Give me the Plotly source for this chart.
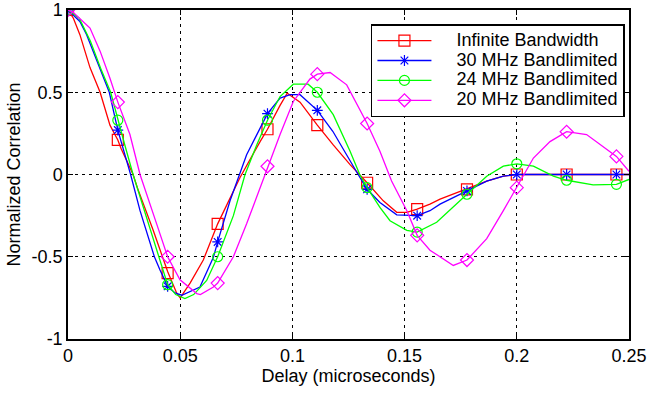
import plotly.graph_objects as go

# ---------------- data ----------------
series_names = ["Infinite Bandwidth", "30 MHz Bandlimited",
                "24 MHz Bandlimited", "20 MHz Bandlimited"]
series_colors = ["#FF0000", "#0000FF", "#00FF00", "#FF00FF"]
series_symbols = ["square-open", "asterisk-open", "circle-open", "diamond-open"]

# marker sample delays (microseconds)
marker_x = [0.0, 0.0222, 0.0444, 0.0667, 0.0889, 0.1111,
            0.1333, 0.1556, 0.1778, 0.2, 0.2222, 0.2444]

red_mk = [1.0, 0.21, -0.60, -0.30, 0.275, 0.30, -0.05, -0.21, -0.09, 0.0, 0.0, 0.0]
blue_mk = [1.0, 0.27, -0.68, -0.41, 0.37, 0.39, -0.09, -0.25, -0.10, 0.0, 0.0, 0.0]
green_mk = [1.0, 0.33, -0.67, -0.50, 0.33, 0.50, -0.08, -0.35, -0.12, 0.065, -0.035, -0.06]
mag_mk = [1.0, 0.44, -0.50, -0.66, 0.05, 0.61, 0.31, -0.37, -0.52, -0.08, 0.26, 0.11]

# dense curves
red_x = [0.0, 0.0024, 0.0053, 0.0098, 0.0143, 0.0187, 0.0222, 0.0236, 0.029, 0.0309,
         0.038, 0.0444, 0.0484, 0.05, 0.0544, 0.0603, 0.0667, 0.0766, 0.0856, 0.0889,
         0.0945, 0.0977, 0.1034, 0.1078, 0.1111, 0.1182, 0.1257, 0.1333, 0.1405,
         0.1465, 0.151, 0.1556, 0.1613, 0.1658, 0.1747, 0.1778, 0.1866, 0.194, 0.2, 0.25]
red_y = [1.0, 0.95, 0.85, 0.65, 0.50, 0.30, 0.21, 0.16, 0.0, -0.08,
         -0.34, -0.59, -0.72, -0.75, -0.66, -0.52, -0.30, -0.02, 0.20, 0.275,
         0.42, 0.494, 0.44, 0.36, 0.30, 0.18, 0.06, -0.05, -0.16,
         -0.23, -0.23, -0.21, -0.18, -0.15, -0.104, -0.09, -0.04, -0.01, 0.0, 0.0]

blue_x = [0.0, 0.0053, 0.0083, 0.014, 0.0184, 0.0222, 0.0279, 0.0321, 0.0385, 0.041,
          0.0444, 0.0477, 0.0507, 0.0588, 0.0648, 0.0667, 0.0722, 0.0796, 0.0856,
          0.0889, 0.0945, 0.099, 0.1034, 0.1111, 0.118, 0.1257, 0.1293, 0.1333,
          0.139, 0.1465, 0.1556, 0.1613, 0.1658, 0.1778, 0.1866, 0.194, 0.2, 0.25]
blue_y = [1.0, 0.93, 0.85, 0.65, 0.50, 0.27, 0.0, -0.22, -0.50, -0.58,
          -0.68, -0.72, -0.734, -0.684, -0.503, -0.41, -0.16, 0.12, 0.28,
          0.37, 0.464, 0.485, 0.485, 0.39, 0.263, 0.08, 0.0, -0.09,
          -0.17, -0.245, -0.25, -0.22, -0.18, -0.10, -0.04, -0.01, 0.0, 0.0]

green_x = [0.0, 0.005, 0.01, 0.015, 0.019, 0.0222, 0.0255, 0.029, 0.0407, 0.0444,
           0.048, 0.0521, 0.056, 0.0618, 0.0667, 0.0737, 0.0789, 0.0841, 0.0889,
           0.0945, 0.1004, 0.107, 0.1111, 0.1182, 0.1257, 0.130, 0.1333, 0.139,
           0.1435, 0.151, 0.1556, 0.1643, 0.1778, 0.1866, 0.194, 0.2, 0.2074, 0.2163,
           0.2222, 0.234, 0.2444, 0.25]
green_y = [1.0, 0.95, 0.81, 0.63, 0.50, 0.33, 0.17, 0.0, -0.50, -0.67,
           -0.73, -0.754, -0.73, -0.644, -0.50, -0.25, 0.0, 0.18, 0.33,
           0.474, 0.549, 0.549, 0.50, 0.364, 0.142, 0.0, -0.08, -0.20,
           -0.281, -0.34, -0.35, -0.29, -0.12, -0.01, 0.051, 0.065, 0.051, -0.01,
           -0.035, -0.063, -0.06, -0.03]

mag_x = [0.0, 0.0024, 0.0098, 0.0143, 0.0187, 0.0222, 0.0276, 0.0321, 0.0395, 0.0444,
         0.0499, 0.0574, 0.059, 0.0648, 0.0667, 0.0737, 0.0796, 0.0856, 0.0889,
         0.0945, 0.1004, 0.1078, 0.1111, 0.1168, 0.1242, 0.1333, 0.139, 0.1442,
         0.151, 0.1556, 0.1613, 0.1702, 0.1717, 0.1778, 0.1866, 0.194, 0.2, 0.2074,
         0.2148, 0.2222, 0.2311, 0.2444, 0.25]
mag_y = [1.0, 0.985, 0.89, 0.75, 0.585, 0.44, 0.243, 0.0, -0.30, -0.50,
         -0.64, -0.724, -0.73, -0.684, -0.66, -0.50, -0.30, -0.08, 0.05,
         0.243, 0.444, 0.58, 0.61, 0.62, 0.545, 0.31, 0.142, -0.04,
         -0.22, -0.37, -0.46, -0.543, -0.553, -0.52, -0.39, -0.22, -0.08, 0.10,
         0.20, 0.26, 0.243, 0.11, 0.02]

x_ticks = [0, 0.05, 0.1, 0.15, 0.2, 0.25]
x_tick_text = ["0", "0.05", "0.1", "0.15", "0.2", "0.25"]
y_ticks = [-1, -0.5, 0, 0.5, 1]
y_tick_text = ["-1", "-0.5", "0", "0.5", "1"]

lines_x = [red_x, blue_x, green_x, mag_x]
lines_y = [red_y, blue_y, green_y, mag_y]
marks_y = [red_mk, blue_mk, green_mk, mag_mk]
marker_sizes = [11, 9, 10, 10]

FONT = "Liberation Sans, Arial, Helvetica, sans-serif"

fig = go.Figure()
for i in range(4):
    c = series_colors[i]
    fig.add_trace(go.Scatter(x=lines_x[i], y=lines_y[i], mode="lines",
                             line=dict(color=c, width=1.3), showlegend=False,
                             hoverinfo="skip"))
    fig.add_trace(go.Scatter(x=marker_x, y=marks_y[i], mode="markers",
                             marker=dict(symbol=series_symbols[i], size=marker_sizes[i],
                                         color=c, line=dict(color=c, width=1.2)),
                             showlegend=False))
for i in range(4):
    c = series_colors[i]
    fig.add_trace(go.Scatter(x=[None], y=[None], mode="lines+markers",
                             name='<span style="font-size:18px">' + "\u00a0" * 4
                                  + series_names[i] + "</span>",
                             line=dict(color=c, width=1.3),
                             marker=dict(symbol=series_symbols[i], size=marker_sizes[i],
                                         color=c, line=dict(color=c, width=1.2))))

axis_common = dict(showline=True, linecolor="black", linewidth=1.5, mirror="ticks",
                   ticks="inside", ticklen=5, tickwidth=1, tickcolor="black",
                   showgrid=True, gridcolor="black", gridwidth=1, griddash="3px,4px",
                   zeroline=False, automargin=False, ticklabeloverflow="allow",
                   tickfont=dict(family=FONT, size=18, color="black"))

fig.update_layout(
    width=649, height=397,
    margin=dict(l=68, r=20, t=10, b=58, autoexpand=False),
    paper_bgcolor="white", plot_bgcolor="white",
    font=dict(family=FONT, size=18, color="black"),
    xaxis=dict(range=[0, 0.25], tickvals=x_ticks, ticktext=x_tick_text,
               title=dict(text="Delay (microseconds)", font=dict(family=FONT, size=18),
                          standoff=4), **axis_common),
    yaxis=dict(range=[-1, 1], tickvals=y_ticks, ticktext=y_tick_text,
               title=dict(text="Normalized Correlation", font=dict(family=FONT, size=18),
                          standoff=6), **axis_common),
    legend=dict(x=0.540, y=0.957, xanchor="left", yanchor="top",
                bgcolor="white", bordercolor="black", borderwidth=1.5,
                font=dict(family=FONT, size=13, color="black"),
                itemwidth=54, tracegroupgap=0),
    showlegend=True,
)

fig.write_html("out.html")
